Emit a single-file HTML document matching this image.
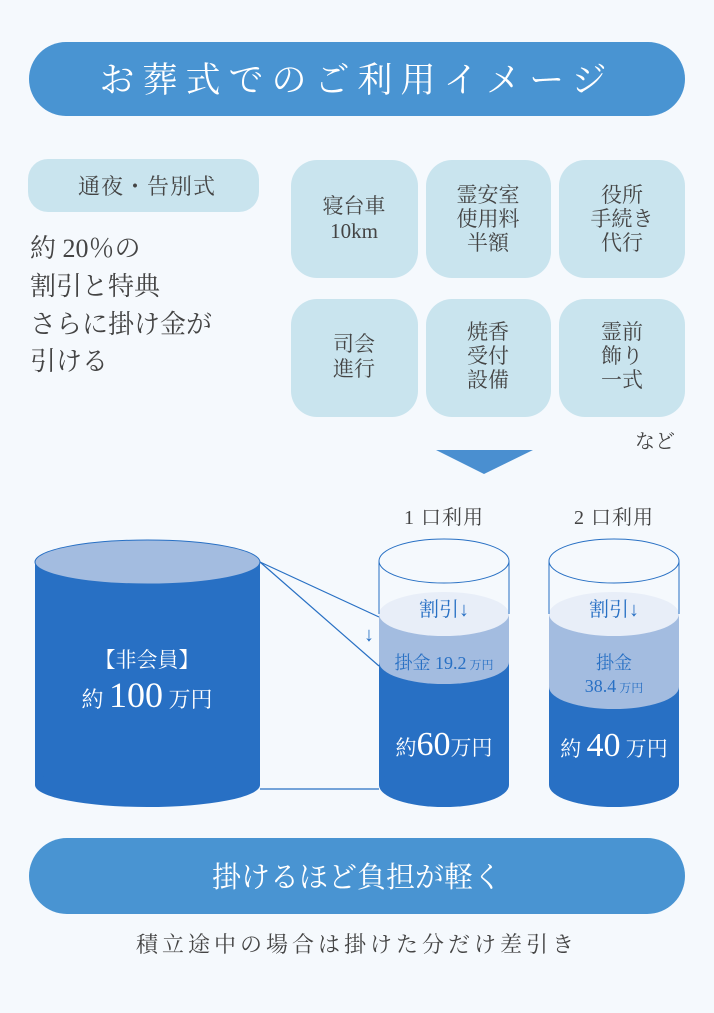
<!DOCTYPE html>
<html><head><meta charset="utf-8"><style>
html,body{margin:0;padding:0;background:#f5f9fd;}
svg{display:block;}
text{font-family:"Liberation Serif","Noto Serif CJK SC","Noto Serif CJK JP",serif;}
</style></head><body>
<svg width="714" height="1013" viewBox="0 0 714 1013" xmlns="http://www.w3.org/2000/svg">
<rect width="714" height="1013" fill="#f5f9fd"/>
<rect x="29" y="42" width="656" height="74" rx="37" fill="#4994d2"/>
<text x="357" y="92" text-anchor="middle" font-size="35" fill="#fff" letter-spacing="8">お葬式でのご利用イメージ</text>

<rect x="28" y="159" width="231" height="53" rx="20" fill="#c9e4ee"/>
<text x="147" y="194" text-anchor="middle" font-size="22" fill="#444" letter-spacing="1">通夜・告別式</text>
<g font-size="26" fill="#444">
<text x="30" y="257">約 20％の</text>
<text x="30" y="295">割引と特典</text>
<text x="30" y="333">さらに掛け金が</text>
<text x="30" y="370">引ける</text>
</g>

<g fill="#c9e4ee">
<rect x="291" y="160" width="127" height="118" rx="26"/>
<rect x="426" y="160" width="125" height="118" rx="26"/>
<rect x="559" y="160" width="126" height="118" rx="26"/>
<rect x="291" y="299" width="127" height="118" rx="26"/>
<rect x="426" y="299" width="125" height="118" rx="26"/>
<rect x="559" y="299" width="126" height="118" rx="26"/>
</g>
<g font-size="21" fill="#444" text-anchor="middle">
<text x="354" y="213">寝台車</text><text x="354" y="238">10km</text>
<text x="488" y="202">霊安室</text><text x="488" y="226">使用料</text><text x="488" y="250">半額</text>
<text x="622" y="202">役所</text><text x="622" y="226">手続き</text><text x="622" y="250">代行</text>
<text x="354" y="351">司会</text><text x="354" y="376">進行</text>
<text x="488" y="339">焼香</text><text x="488" y="363">受付</text><text x="488" y="387">設備</text>
<text x="622" y="339">霊前</text><text x="622" y="363">飾り</text><text x="622" y="387">一式</text>
</g>
<text x="655" y="448" text-anchor="middle" font-size="20" fill="#444">など</text>
<polygon points="436,450 533,450 484,474" fill="#4a8fd0"/>

<text x="444" y="524" text-anchor="middle" font-size="20" fill="#444" letter-spacing="1">1 口利用</text>
<text x="614" y="524" text-anchor="middle" font-size="20" fill="#444" letter-spacing="1">2 口利用</text>

<!-- big cylinder -->
<rect x="35" y="562" width="225" height="223" fill="#2870c4"/>
<ellipse cx="147.5" cy="785" rx="112.5" ry="22" fill="#2870c4"/>
<ellipse cx="147.5" cy="562" rx="112.5" ry="22" fill="#a3bce0" stroke="#2870c4" stroke-width="1"/>
<text x="147" y="667" text-anchor="middle" font-size="21" fill="#fff">【非会員】</text>
<text x="147" y="707" text-anchor="middle" fill="#fff"><tspan font-size="22">約 </tspan><tspan font-size="36">100</tspan><tspan font-size="22"> 万円</tspan></text>

<!-- connectors -->
<g stroke="#2870c4" stroke-width="1.2" fill="none">
<line x1="260" y1="562" x2="379" y2="617"/>
<line x1="260" y1="562" x2="379" y2="666"/>
<line x1="260" y1="789" x2="379" y2="789"/>
</g>
<text x="369" y="641" text-anchor="middle" font-size="20" fill="#2870c4">↓</text>

<!-- cylinder 1 -->
<rect x="379" y="662" width="130" height="123" fill="#2870c4"/>
<ellipse cx="444" cy="785" rx="65" ry="22" fill="#2870c4"/>
<rect x="379" y="614" width="130" height="48" fill="#a3bce0"/>
<ellipse cx="444" cy="662" rx="65" ry="22" fill="#a3bce0"/>
<ellipse cx="444" cy="614" rx="65" ry="22" fill="#e8eef8"/>
<line x1="379" y1="561" x2="379" y2="614" stroke="#2870c4"/>
<line x1="509" y1="561" x2="509" y2="614" stroke="#2870c4"/>
<ellipse cx="444" cy="561" rx="65" ry="22" fill="none" stroke="#2870c4"/>
<text x="444" y="616" text-anchor="middle" font-size="20" fill="#2870c4">割引↓</text>
<text x="444" y="669" text-anchor="middle" fill="#2870c4"><tspan font-size="18">掛金 19.2</tspan><tspan font-size="12"> 万円</tspan></text>
<text x="444" y="755" text-anchor="middle" fill="#fff"><tspan font-size="21">約</tspan><tspan font-size="34">60</tspan><tspan font-size="21">万円</tspan></text>

<!-- cylinder 2 -->
<rect x="549" y="687" width="130" height="98" fill="#2870c4"/>
<ellipse cx="614" cy="785" rx="65" ry="22" fill="#2870c4"/>
<rect x="549" y="614" width="130" height="73" fill="#a3bce0"/>
<ellipse cx="614" cy="687" rx="65" ry="22" fill="#a3bce0"/>
<ellipse cx="614" cy="614" rx="65" ry="22" fill="#e8eef8"/>
<line x1="549" y1="561" x2="549" y2="614" stroke="#2870c4"/>
<line x1="679" y1="561" x2="679" y2="614" stroke="#2870c4"/>
<ellipse cx="614" cy="561" rx="65" ry="22" fill="none" stroke="#2870c4"/>
<text x="614" y="616" text-anchor="middle" font-size="20" fill="#2870c4">割引↓</text>
<text x="614" y="669" text-anchor="middle" font-size="18" fill="#2870c4">掛金</text>
<text x="614" y="692" text-anchor="middle" fill="#2870c4"><tspan font-size="18">38.4</tspan><tspan font-size="12"> 万円</tspan></text>
<text x="614" y="756" text-anchor="middle" fill="#fff"><tspan font-size="21">約 </tspan><tspan font-size="34">40</tspan><tspan font-size="21"> 万円</tspan></text>

<rect x="29" y="838" width="656" height="76" rx="38" fill="#4994d2"/>
<text x="357" y="887" text-anchor="middle" font-size="29" fill="#fff">掛けるほど負担が軽く</text>
<text x="357" y="952" text-anchor="middle" font-size="22" fill="#444" letter-spacing="4">積立途中の場合は掛けた分だけ差引き</text>
</svg>
</body></html>
